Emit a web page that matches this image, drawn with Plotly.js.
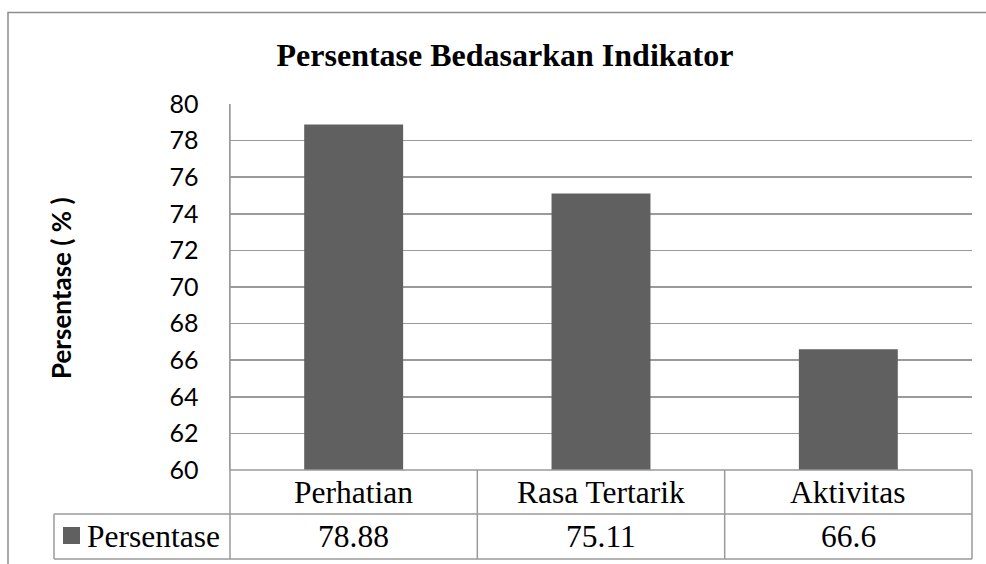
<!DOCTYPE html>
<html>
<head>
<meta charset="utf-8">
<script src="https://cdn.plot.ly/plotly-3.0.1.min.js"></script>
<style>html,body{margin:0;padding:0;background:#fff;}#chart{width:986px;height:564px;}</style>
</head>
<body>
<div id="chart"></div>
<script>
const categories = ["Perhatian", "Rasa Tertarik", "Aktivitas"];
const values = [78.88, 75.11, 66.6];
const seriesName = "Persentase";
const yTicks = [60, 62, 64, 66, 68, 70, 72, 74, 76, 78, 80];
const chartTitle = "Persentase Bedasarkan Indikator";
const yTitle = "Persentase ( % )";

const W = 986, H = 564;
const L = 230, R = 972, T = 104, B = 470;
const px = x => (x - L) / (R - L);
const py = y => (B - y) / (B - T);
const gray = "#9a9a9a";
const serif = "Liberation Serif, Times New Roman, serif";
const sans = "Lato, Open Sans, sans-serif";
const tableFont = 31.5;

const xIdx = categories.map((c, i) => i);

const shapes = [];
// outer chart border
shapes.push({type: "rect", xref: "paper", yref: "paper", x0: px(8), x1: px(1000), y0: py(12.5), y1: py(600), line: {color: "#8c8c8c", width: 1.5}});
// table horizontal lines
[514, 559].forEach(y => shapes.push({type: "line", xref: "paper", yref: "paper", x0: px(54), x1: px(R), y0: py(y), y1: py(y), line: {color: gray, width: 1.5}}));
// table top (category row)
shapes.push({type: "line", xref: "paper", yref: "paper", x0: 0, x1: 1, y0: 0, y1: 0, line: {color: gray, width: 1.5}});
// verticals
shapes.push({type: "line", xref: "paper", yref: "paper", x0: 0, x1: 0, y0: 1, y1: py(559), line: {color: gray, width: 1.5}});
shapes.push({type: "line", xref: "paper", yref: "paper", x0: 1, x1: 1, y0: 0, y1: py(559), line: {color: gray, width: 1.5}});
for (let i = 0; i < categories.length - 1; i++) {
  shapes.push({type: "line", xref: "x", yref: "paper", x0: i + 0.5, x1: i + 0.5, y0: 0, y1: py(559), line: {color: gray, width: 1.5}});
}
// left label cell
shapes.push({type: "line", xref: "paper", yref: "paper", x0: px(54), x1: px(54), y0: py(514), y1: py(559), line: {color: gray, width: 1.5}});
// legend key
shapes.push({type: "rect", xref: "paper", yref: "paper", x0: px(63), x1: px(80), y0: py(527), y1: py(544), fillcolor: "#606060", line: {width: 0}});

const annotations = [];
categories.forEach((c, i) => annotations.push({x: i, xref: "x", y: py(492), yref: "paper", text: c, showarrow: false, xanchor: "center", yanchor: "middle", font: {family: serif, size: tableFont, color: "#000"}}));
values.forEach((v, i) => annotations.push({x: i, xref: "x", y: py(536.5), yref: "paper", text: String(v), showarrow: false, xanchor: "center", yanchor: "middle", font: {family: serif, size: tableFont, color: "#000"}}));
annotations.push({x: px(85), xref: "paper", y: py(536.5), yref: "paper", text: seriesName, showarrow: false, xanchor: "left", yanchor: "middle", font: {family: serif, size: tableFont, color: "#000"}});
annotations.push({x: px(61), xref: "paper", y: py(288), yref: "paper", text: "<b>" + yTitle + "</b>", textangle: -90, showarrow: false, xanchor: "center", yanchor: "middle", font: {family: sans, size: 26, color: "#000"}});

const data = [{
  type: "bar",
  x: xIdx,
  y: values,
  name: seriesName,
  width: 0.4,
  marker: {color: "#606060", line: {width: 0}},
  hoverinfo: "none"
}];

const layout = {
  width: W, height: H,
  margin: {l: L, r: W - R, t: T, b: H - B, pad: 0},
  paper_bgcolor: "#fff", plot_bgcolor: "#fff",
  showlegend: false,
  title: {text: "<b>" + chartTitle + "</b>", font: {family: serif, size: 32, color: "#000"}, xref: "container", x: 505 / W, xanchor: "center", yref: "container", y: 1 - 55 / H, yanchor: "middle"},
  xaxis: {range: [-0.5, categories.length - 0.5], showticklabels: false, ticks: "", showgrid: false, zeroline: false, showline: false, fixedrange: true},
  yaxis: {range: [60, 80], tickvals: yTicks, ticktext: yTicks.map(String), ticks: "", ticklen: 0, showgrid: true, gridcolor: gray, gridwidth: 1.5, zeroline: false, showline: true, linecolor: gray, linewidth: 1.5, tickfont: {family: sans, size: 25, color: "#000"}, ticklabelstandoff: 25, fixedrange: true},
  shapes: shapes,
  annotations: annotations,
  bargap: 0.6
};

Plotly.newPlot("chart", data, layout, {displayModeBar: false, staticPlot: true});
</script>
</body>
</html>
